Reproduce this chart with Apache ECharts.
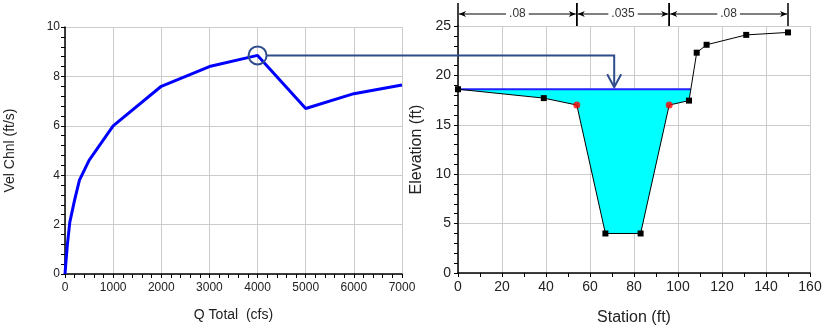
<!DOCTYPE html>
<html>
<head>
<meta charset="utf-8">
<title>Velocity rating and cross section</title>
<script src="https://cdn.jsdelivr.net/npm/echarts@6/dist/echarts.min.js"></script>
<style>
html, body { margin: 0; padding: 0; background: #fff; }
#main { width: 838px; height: 333px; }
</style>
</head>
<body>
<div id="main"></div>
<script>
// left plot: channel velocity against total flow
var qTotal = [0, 20, 50, 100, 200, 300, 500, 1000, 2000, 3000, 4000, 5000, 6000, 7000];
var velChnl = [0, 0.5, 1.2, 2.1, 3.0, 3.8, 4.6, 6.0, 7.6, 8.4, 8.85, 6.7, 7.3, 7.65];

// right plot: cross section
var station = [0, 39, 54, 67, 83, 96, 105, 108.5, 113, 131, 150];
var elevation = [18.6, 17.7, 17.0, 4.0, 4.0, 17.0, 17.45, 22.3, 23.1, 24.1, 24.35];
var bankStations = [54, 96];
var nBreaks = [0, 54, 96, 150];
var nValues = ['.08', '.035', '.08'];
var wsElev = 18.6;
var selectedQ = 4000;      // profile shown on the cross section
var arrowStation = 71;

var textColor = '#222';
var linkColor = '#2e4b8b';

// wetted part of the section, cut at the water surface
function waterPolygon(xs, ys, ws) {
    var pts = [];
    for (var i = 0; i < xs.length; i++) {
        var cross = i > 0 && ((ys[i] <= ws) !== (ys[i - 1] <= ws));
        if (cross) {
            var t = (ws - ys[i - 1]) / (ys[i] - ys[i - 1]);
            pts.push([xs[i - 1] + t * (xs[i] - xs[i - 1]), ws]);
        }
        if (ys[i] <= ws) {
            pts.push([xs[i], ys[i]]);
        }
    }
    return pts;
}
var water = waterPolygon(station, elevation, wsElev);

function axisStyle(o) {
    var base = {
        type: 'value',
        nameLocation: 'middle',
        axisLine: { onZero: false, lineStyle: { color: '#000', width: 1.5 } },
        axisTick: { length: 4, lineStyle: { color: '#000' } },
        splitLine: { show: true, lineStyle: { color: '#cccccc', width: 1 } }
    };
    for (var k in o) base[k] = o[k];
    return base;
}
function plain(v) { return String(v); }

var main = echarts.init(document.getElementById('main'));
var option = {
    animation: false,
    textStyle: { fontFamily: 'Liberation Sans, Arial, sans-serif' },
    grid: [
        { left: 65, top: 27, width: 337, height: 247 },
        { left: 458, top: 26, width: 352, height: 247 }
    ],
    xAxis: [
        axisStyle({
            gridIndex: 0, min: 0, max: 7000, interval: 1000,
            name: 'Q Total  (cfs)', nameGap: 34,
            nameTextStyle: { fontSize: 14, color: textColor },
            minorTick: { show: true, splitNumber: 5, length: 4, lineStyle: { color: '#000' } },
            axisLabel: { fontSize: 12, color: textColor, margin: 8, formatter: plain }
        }),
        axisStyle({
            gridIndex: 1, min: 0, max: 160, interval: 20,
            name: 'Station (ft)', nameGap: 37,
            nameTextStyle: { fontSize: 16, color: textColor },
            minorTick: { show: true, splitNumber: 2, length: 4, lineStyle: { color: '#000' } },
            axisLabel: { fontSize: 14, color: textColor, margin: 7, formatter: plain }
        })
    ],
    yAxis: [
        axisStyle({
            gridIndex: 0, min: 0, max: 10, interval: 2,
            name: 'Vel Chnl (ft/s)', nameGap: 48,
            nameTextStyle: { fontSize: 14, color: textColor },
            minorTick: { show: true, splitNumber: 5, length: 4, lineStyle: { color: '#000' } },
            axisLabel: { fontSize: 12, color: textColor, margin: 5 }
        }),
        axisStyle({
            gridIndex: 1, min: 0, max: 25, interval: 5,
            name: 'Elevation (ft)', nameGap: 33,
            nameTextStyle: { fontSize: 16, color: textColor },
            minorTick: { show: true, splitNumber: 5, length: 4, lineStyle: { color: '#000' } },
            axisLabel: { fontSize: 14, color: textColor, margin: 7 }
        })
    ],
    series: [
        {
            name: 'Vel Chnl',
            type: 'line',
            xAxisIndex: 0, yAxisIndex: 0,
            data: qTotal.map(function (q, i) { return [q, velChnl[i]]; }),
            showSymbol: false,
            lineStyle: { color: '#0000ff', width: 3 },
            z: 3
        },
        {
            name: 'Water',
            type: 'custom',
            xAxisIndex: 1, yAxisIndex: 1,
            data: [[water[0][0], wsElev]],
            renderItem: function (params, api) {
                return {
                    type: 'polygon',
                    shape: { points: water.map(function (p) { return api.coord(p); }) },
                    style: { fill: '#00ffff', stroke: null }
                };
            },
            z: 2
        },
        {
            name: 'WS',
            type: 'line',
            xAxisIndex: 1, yAxisIndex: 1,
            data: [[water[0][0], wsElev], [water[water.length - 1][0], wsElev]],
            showSymbol: false,
            lineStyle: { color: '#2222ff', width: 2 },
            z: 3
        },
        {
            name: 'Ground',
            type: 'line',
            xAxisIndex: 1, yAxisIndex: 1,
            data: station.map(function (s, i) {
                var item = { value: [s, elevation[i]] };
                if (bankStations.indexOf(s) >= 0) item.symbol = 'none';
                return item;
            }),
            symbol: 'rect',
            symbolSize: 6,
            showAllSymbol: true,
            itemStyle: { color: '#000' },
            lineStyle: { color: '#000', width: 1 },
            z: 4
        },
        {
            name: 'Bank Sta',
            type: 'scatter',
            xAxisIndex: 1, yAxisIndex: 1,
            data: bankStations.map(function (b) { return [b, elevation[station.indexOf(b)]]; }),
            symbol: 'circle',
            symbolSize: 7,
            itemStyle: { color: '#ff0000' },
            z: 5
        },
        {
            name: "Manning's n",
            type: 'custom',
            xAxisIndex: 1, yAxisIndex: 1,
            clip: false,
            data: nValues.map(function (n, i) { return [nBreaks[i], nBreaks[i + 1]]; }),
            encode: { x: [0, 1] },
            renderItem: function (params, api) {
                var a = api.coord([api.value(0), 25]);
                var b = api.coord([api.value(1), 25]);
                var y = a[1] - 12;
                var top = a[1] - 23;
                var st = { stroke: '#000', lineWidth: 1 };
                var kids = [
                    { type: 'line', shape: { x1: a[0], y1: top, x2: a[0], y2: a[1] }, style: { stroke: '#000', lineWidth: 1.5 } },
                    { type: 'line', shape: { x1: b[0], y1: top, x2: b[0], y2: a[1] }, style: { stroke: '#000', lineWidth: 1.5 } },
                    { type: 'line', shape: { x1: a[0] + 1, y1: y, x2: b[0] - 1, y2: y }, style: st },
                    { type: 'polygon', shape: { points: [[a[0] + 1, y], [a[0] + 8, y - 3], [a[0] + 6, y], [a[0] + 8, y + 3]] }, style: { fill: '#000' } },
                    { type: 'polygon', shape: { points: [[b[0] - 1, y], [b[0] - 8, y - 3], [b[0] - 6, y], [b[0] - 8, y + 3]] }, style: { fill: '#000' } },
                    {
                        type: 'text',
                        style: {
                            x: (a[0] + b[0]) / 2, y: y,
                            text: nValues[params.dataIndex],
                            align: 'center', verticalAlign: 'middle',
                            fontSize: 12, fontFamily: 'Liberation Sans, Arial, sans-serif',
                            fill: '#333', backgroundColor: '#fff', padding: [0, 3]
                        }
                    }
                ];
                return { type: 'group', children: kids };
            },
            z: 6
        }
    ]
};
main.setOption(option);

// link the selected profile on the rating curve to the water surface
var selV = velChnl[qTotal.indexOf(selectedQ)];
var p1 = main.convertToPixel({ xAxisIndex: 0, yAxisIndex: 0 }, [selectedQ, selV]);
var p2 = main.convertToPixel({ xAxisIndex: 1, yAxisIndex: 1 }, [arrowStation, wsElev]);
var r = 9;
main.setOption({
    graphic: [
        {
            type: 'circle', z: 100,
            shape: { cx: p1[0], cy: p1[1], r: r },
            style: { fill: null, stroke: linkColor, lineWidth: 2 }
        },
        {
            type: 'polyline', z: 100,
            shape: { points: [[p1[0] + r, p1[1]], [p2[0], p1[1]], [p2[0], p2[1] - 2]] },
            style: { fill: null, stroke: linkColor, lineWidth: 2 }
        },
        {
            type: 'polyline', z: 100,
            shape: { points: [[p2[0] - 7, p2[1] - 15], [p2[0], p2[1] - 2], [p2[0] + 7, p2[1] - 15]] },
            style: { fill: null, stroke: linkColor, lineWidth: 2 }
        }
    ]
});
</script>
</body>
</html>
